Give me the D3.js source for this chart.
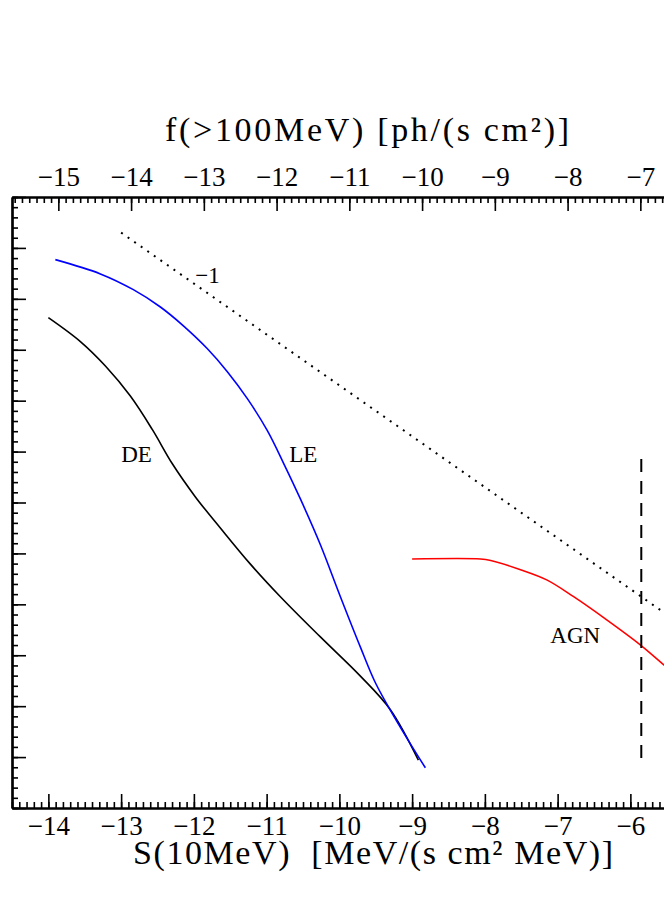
<!DOCTYPE html>
<html>
<head>
<meta charset="utf-8">
<script src="https://cdn.jsdelivr.net/npm/d3@7"></script>
<style>
  body { margin: 0; background: #fff; }
  text { font-family: "Liberation Serif", "DejaVu Serif", serif; fill: #000; }
</style>
</head>
<body>
<div id="chart"></div>
<script>
// Data: log S(10MeV) vs log N(>S)
var deS = [-14.0, -13.56, -13.216, -12.873, -12.57, -12.296, -11.979, -11.636, -11.223, -10.811, -10.261, -9.711, -9.299, -8.914];
var deLogN = [9.63, 9.16, 8.68, 8.09, 7.43, 6.76, 6.11, 5.5, 4.79, 4.15, 3.36, 2.59, 1.93, 0.94];

var leS = [-13.904, -13.285, -12.832, -12.46, -12.144, -11.814, -11.54, -11.265, -10.99, -10.77, -10.536, -10.261, -9.986, -9.711, -9.505, -9.23, -9.024, -8.818];
var leLogN = [10.77, 10.49, 10.18, 9.84, 9.47, 9.02, 8.57, 8.04, 7.41, 6.78, 6.07, 5.17, 4.15, 3.16, 2.46, 1.75, 1.26, 0.79];

var agnS = [-9.0, -8.06, -7.92, -7.51, -7.15, -6.78, -6.32, -5.86, -5.54, -5.45];
var agnLogN = [4.89, 4.89, 4.86, 4.68, 4.48, 4.15, 3.69, 3.2, 2.81, 2.7];

// slope -1 reference line
var slopeS = [-13.0, -5.4];
var slopeLogN = [11.3, 3.7];

// vertical cut (dashed)
var cutS = [-5.85, -5.85];
var cutLogN = [0.98, 6.97];

var bottomTicks = [-14, -13, -12, -11, -10, -9, -8, -7, -6];
var topTicks = [-15, -14, -13, -12, -11, -10, -9, -8, -7];
var fOffset = 1.137; // f(>100MeV) = S(10MeV) - fOffset

var svgWidth = 664;
var svgHeight = 897;

var plotLeft = 12, plotRight = 12 + 9 * 72.75;
var plotTop = 197, plotBottom = 808;

var svg = d3.select("#chart")
  .append("svg")
  .attr("width", svgWidth)
  .attr("height", svgHeight);

// scales
var xScale = d3.scaleLinear().domain([-14.5, -5.5]).range([plotLeft, plotRight]);
var fScale = d3.scaleLinear().domain([-14.5 - fOffset, -5.5 - fOffset]).range([plotLeft, plotRight]);
var yScale = d3.scaleLinear().domain([0, 12]).range([plotBottom, plotTop]);

function styleAxis(g) {
  g.select(".domain").attr("stroke-width", 2.2);
  g.selectAll(".tick line").attr("stroke-width", 1.6);
}

// minor ticks first, then majors with labels
var xMinor = d3.range(-145, -54).map(d => d / 10);
var fMinor = d3.range(-156, -66).map(d => d / 10);
var yMinor = d3.range(0, 61).map(d => d / 5);

var bottomMinor = svg.append("g")
  .attr("transform", `translate(0, ${plotBottom})`)
  .call(d3.axisBottom(xScale).tickValues(xMinor).tickSizeInner(-6).tickSizeOuter(0).tickFormat(""));
styleAxis(bottomMinor);

var bottomAxis = svg.append("g")
  .attr("transform", `translate(0, ${plotBottom})`)
  .call(d3.axisBottom(xScale).tickValues(bottomTicks).tickSizeInner(-14).tickSizeOuter(0).tickPadding(8)
    .tickFormat(d => "\u2212" + Math.abs(d)));
styleAxis(bottomAxis);

var topMinor = svg.append("g")
  .attr("transform", `translate(0, ${plotTop})`)
  .call(d3.axisTop(fScale).tickValues(fMinor).tickSizeInner(-6).tickSizeOuter(0).tickFormat(""));
styleAxis(topMinor);

var topAxis = svg.append("g")
  .attr("transform", `translate(0, ${plotTop})`)
  .call(d3.axisTop(fScale).tickValues(topTicks).tickSizeInner(-14).tickSizeOuter(0).tickPadding(11)
    .tickFormat(d => "\u2212" + Math.abs(d)));
styleAxis(topAxis);

var leftMinor = svg.append("g")
  .attr("transform", `translate(${plotLeft}, 0)`)
  .call(d3.axisLeft(yScale).tickValues(yMinor).tickSizeInner(-6).tickSizeOuter(0).tickFormat(""));
styleAxis(leftMinor);

var leftAxis = svg.append("g")
  .attr("transform", `translate(${plotLeft}, 0)`)
  .call(d3.axisLeft(yScale).tickValues(d3.range(0, 13)).tickSizeInner(-14).tickSizeOuter(0).tickFormat(""));
styleAxis(leftAxis);

svg.selectAll(".tick text")
  .attr("font-family", "Liberation Serif, serif")
  .attr("font-size", "27px")
  .attr("fill", "#000");

// axis titles
svg.append("text")
  .attr("x", 165)
  .attr("y", 141)
  .attr("font-size", "34px")
  .attr("textLength", 404)
  .text("f(>100MeV) [ph/(s cm\u00b2)]");

svg.append("text")
  .attr("x", 133)
  .attr("y", 864)
  .attr("font-size", "34px")
  .attr("textLength", 480)
  .style("white-space", "pre")
  .text("S(10MeV)  [MeV/(s cm\u00b2 MeV)]");

// curves
var line = d3.line()
  .x(d => xScale(d[0]))
  .y(d => yScale(d[1]))
  .curve(d3.curveCatmullRom.alpha(0.5));

var straight = d3.line()
  .x(d => xScale(d[0]))
  .y(d => yScale(d[1]));

var curves = [
  { s: deS, n: deLogN, color: "#000" },
  { s: leS, n: leLogN, color: "#0000ff" },
  { s: agnS, n: agnLogN, color: "#ff0000" }
];

curves.forEach(function(c) {
  svg.append("path")
    .datum(d3.zip(c.s, c.n))
    .attr("d", line)
    .attr("fill", "none")
    .attr("stroke", c.color)
    .attr("stroke-width", 1.6);
});

svg.append("path")
  .datum(d3.zip(slopeS, slopeLogN))
  .attr("d", straight)
  .attr("fill", "none")
  .attr("stroke", "#000")
  .attr("stroke-width", 2)
  .attr("stroke-dasharray", "2,6");

svg.append("path")
  .datum(d3.zip(cutS, cutLogN))
  .attr("d", straight)
  .attr("fill", "none")
  .attr("stroke", "#000")
  .attr("stroke-width", 2)
  .attr("stroke-dasharray", "13,9");

// curve labels
var labels = [
  { t: "DE", s: -13.0, n: 6.8 },
  { t: "LE", s: -10.69, n: 6.8 },
  { t: "AGN", s: -7.1, n: 3.24 },
  { t: "\u22121", s: -11.98, n: 10.31 }
];

svg.selectAll(".clabel")
  .data(labels)
  .enter()
  .append("text")
  .attr("class", "clabel")
  .attr("x", d => xScale(d.s))
  .attr("y", d => yScale(d.n))
  .attr("font-size", "23px")
  .text(d => d.t);
</script>
</body>
</html>
